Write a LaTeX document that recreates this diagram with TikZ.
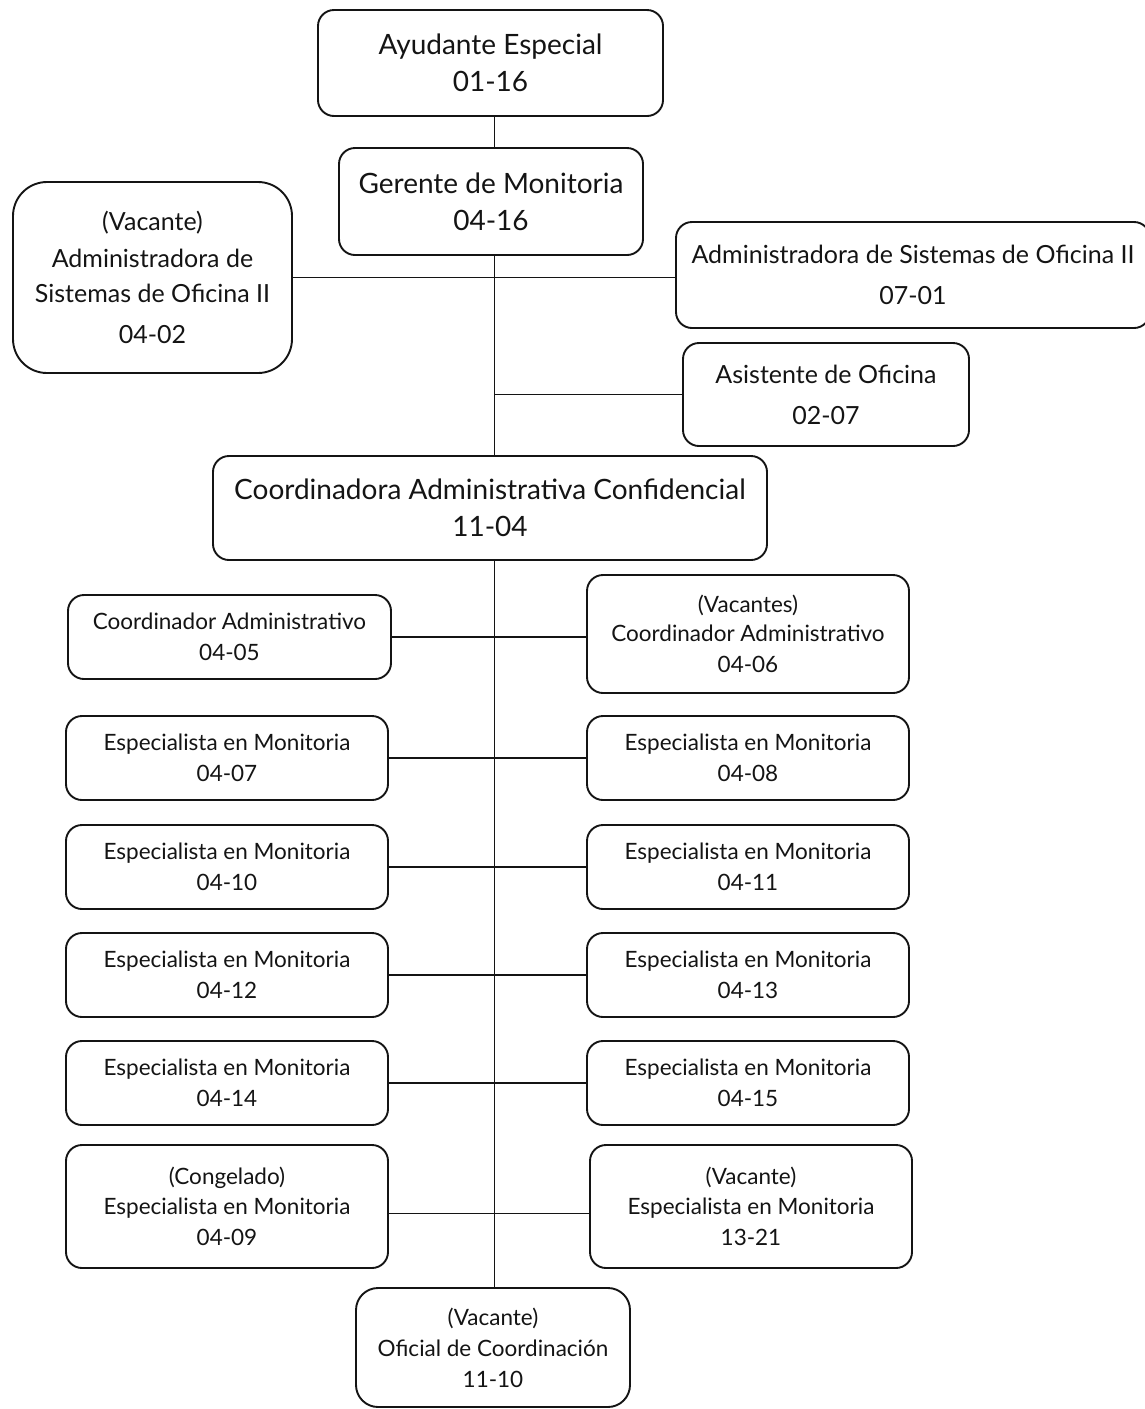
\documentclass[tikz,border=0pt]{standalone}
\usepackage{fontspec}
\setmainfont{Lato}
\definecolor{ink}{RGB}{20, 20, 20}

\begin{document}
\begin{tikzpicture}[x=1pt, y=-1pt, line width=1.9pt, draw=ink,
    box/.style={draw=ink, rounded corners=16pt, align=center, inner sep=0pt, text=ink},
    big/.style={box, font=\fontsize{28}{37}\selectfont},
    mid/.style={box, font=\fontsize{25}{41}\selectfont},
    small/.style={box, font=\fontsize{22.5}{31}\selectfont}]
            \useasboundingbox (0,0) rectangle (1145,1409);
            \clip (0,0) rectangle (1145,1409);
            % top of the chart
            \node[big,  minimum width=345, minimum height=106]                     (ayudante)  at (490.5,  63.0) {Ayudante Especial\\01-16};
            \node[big,  minimum width=304, minimum height=107]                     (gerente)   at (491.0, 201.5) {Gerente de Monitoria\\04-16};
            \node[mid,  minimum width=279, minimum height=191, rounded corners=34pt] (admvac)  at (152.5, 277.5) {(Vacante)\\[-4pt]Administradora de\\[-6pt]Sistemas de Oficina II\\04-02};
            \node[mid,  minimum width=474, minimum height=106]                     (admsis)    at (913.0, 275.0) {Administradora de Sistemas de Oficina II\\07-01};
            \node[mid,  minimum width=286, minimum height=103]                     (asistente) at (826.0, 394.5) {Asistente de Oficina\\02-07};
            \node[big,  minimum width=554, minimum height=104]                     (coordconf) at (490.0, 508.0) {Coordinadora Administrativa Confidencial\\11-04};
            % left column
            \node[small, minimum width=323, minimum height=84]                     (coord05)   at (229.5, 637.0) {Coordinador Administrativo\\04-05};
            \node[small, minimum width=322, minimum height=84]                     (esp07)     at (227.0, 758.0) {Especialista en Monitoria\\04-07};
            \node[small, minimum width=322, minimum height=84]                     (esp10)     at (227.0, 867.0) {Especialista en Monitoria\\04-10};
            \node[small, minimum width=322, minimum height=84]                     (esp12)     at (227.0, 975.0) {Especialista en Monitoria\\04-12};
            \node[small, minimum width=322, minimum height=84]                     (esp14)     at (227.0,1083.0) {Especialista en Monitoria\\04-14};
            \node[small, minimum width=322, minimum height=123]                    (esp09)     at (227.0,1206.5) {(Congelado)\\[-1pt]Especialista en Monitoria\\04-09};
            % right column
            \node[small, minimum width=322, minimum height=118]                    (coord06)   at (748.0, 634.0) {(Vacantes)\\[-2pt]Coordinador Administrativo\\04-06};
            \node[small, minimum width=322, minimum height=84]                     (esp08)     at (748.0, 758.0) {Especialista en Monitoria\\04-08};
            \node[small, minimum width=322, minimum height=84]                     (esp11)     at (748.0, 867.0) {Especialista en Monitoria\\04-11};
            \node[small, minimum width=322, minimum height=84]                     (esp13)     at (748.0, 975.0) {Especialista en Monitoria\\04-13};
            \node[small, minimum width=322, minimum height=84]                     (esp15)     at (748.0,1083.0) {Especialista en Monitoria\\04-15};
            \node[small, minimum width=322, minimum height=123]                    (esp1321)   at (751.0,1206.5) {(Vacante)\\[-1pt]Especialista en Monitoria\\13-21};
            % bottom
            \node[small, minimum width=274, minimum height=119, rounded corners=22pt] (oficial) at (493.0,1347.5) {(Vacante)\\Oficial de Coordinación\\11-10};
            % trunk and branches
            \draw ([xshift=4pt]ayudante.south) -- ([xshift=3.5pt]gerente.north);
            \draw ([xshift=3.5pt]gerente.south) -- ([xshift=4.5pt]coordconf.north);
            \draw (admvac.east) -- (admvac.east -| admsis.west);
            \draw (asistente.west) -- ([xshift=4.5pt]asistente.west -| coordconf.north);
            \draw ([xshift=4.5pt]coordconf.south) -- ([xshift=1.5pt]oficial.north);
            \draw (coord05.east) -- (coord05.east -| coord06.west);
            \draw (esp07.east)   -- (esp08.west);
            \draw (esp10.east)   -- (esp11.west);
            \draw (esp12.east)   -- (esp13.west);
            \draw (esp14.east)   -- (esp15.west);
            \draw ([yshift=-7pt]esp09.east) -- ([yshift=-7pt]esp1321.west);
        \end{tikzpicture}
\end{document}
